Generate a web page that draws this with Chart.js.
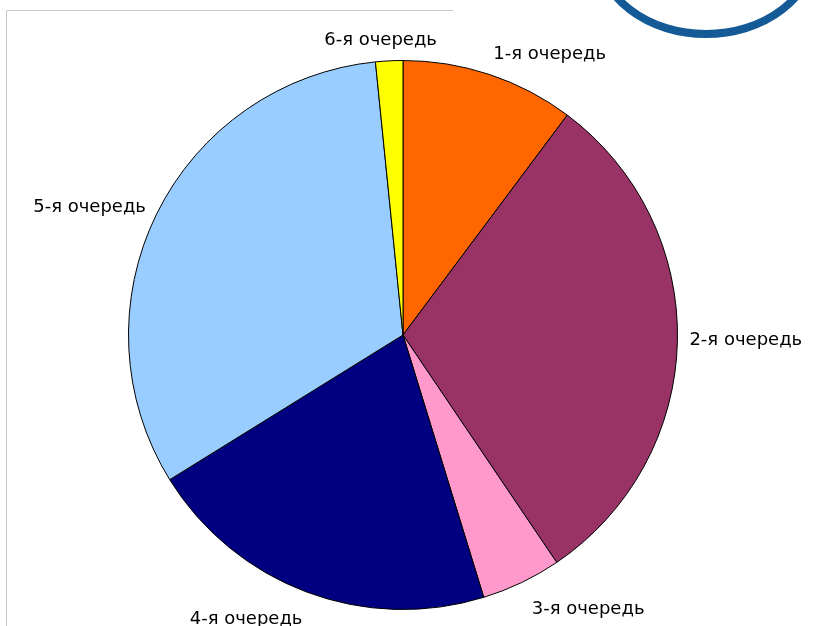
<!DOCTYPE html>
<html>
<head>
<meta charset="utf-8">
<script src="https://cdn.jsdelivr.net/npm/chart.js@4"></script>
<style>
  html, body { margin: 0; padding: 0; background: #fff; }
  #wrap { position: relative; width: 829px; height: 626px; }
</style>
</head>
<body>
<div id="wrap"><canvas id="myChart" width="829" height="626"></canvas></div>
<script>
var labels = ["1-я очередь", "2-я очередь", "3-я очередь", "4-я очередь", "5-я очередь", "6-я очередь"];
var values = [10.2, 30.3, 4.7, 20.9, 32.2, 1.6];
var colors = ['#FF6600', '#993366', '#FF99CC', '#000080', '#99CCFF', '#FFFF00'];

// frame lines and the logo arc in the corner
var backdrop = {
  id: 'backdrop',
  beforeDraw: function (chart) {
    var c = chart.ctx;
    c.save();
    c.strokeStyle = '#c8c8c8';
    c.lineWidth = 1;
    c.beginPath();
    c.moveTo(6.5, 626);
    c.lineTo(6.5, 10.5);
    c.lineTo(453, 10.5);
    c.stroke();
    c.strokeStyle = '#135a96';
    c.lineWidth = 8;
    c.beginPath();
    c.ellipse(706, -50, 108, 84, 0, 0, Math.PI);
    c.stroke();
    c.restore();
  }
};

// labels outside the slices, aligned by quadrant
var outLabels = {
  id: 'outLabels',
  afterDatasetsDraw: function (chart) {
    var c = chart.ctx;
    var meta = chart.getDatasetMeta(0);
    c.save();
    c.font = '18px "DejaVu Sans", sans-serif';
    c.fillStyle = '#000';
    meta.data.forEach(function (arc, i) {
      var mid = (arc.startAngle + arc.endAngle) / 2;
      var s = Math.cos(mid), k = Math.sin(mid);   // s: right, k: down
      var r = arc.outerRadius + 12;
      var x = arc.x + r * s, y = arc.y + r * k;
      c.textAlign = s > 0.2 ? 'left' : (s < -0.2 ? 'right' : 'center');
      if (s > -0.2 && s < 0.2) { x -= 8; }
      if (s > 0.2 && k > 0.5) { x += 5; }
      if (k < -0.5) { c.textBaseline = 'bottom'; }
      else if (k > 0.5) { c.textBaseline = 'top'; y += 7; }
      else { c.textBaseline = 'middle'; y -= 1; }
      c.fillText(labels[i], x, y);
    });
    c.restore();
  }
};

var ctx = document.getElementById('myChart').getContext('2d');
var myChart = new Chart(ctx, {
  type: 'pie',
  data: {
    labels: labels,
    datasets: [{
      data: values,
      backgroundColor: colors,
      borderColor: '#000',
      borderWidth: 1
    }]
  },
  options: {
    responsive: false,
    animation: false,
    layout: { padding: { left: 128, right: 151, top: 60, bottom: 16 } },
    plugins: {
      legend: { display: false },
      tooltip: { enabled: false }
    }
  },
  plugins: [backdrop, outLabels]
});
</script>
</body>
</html>
